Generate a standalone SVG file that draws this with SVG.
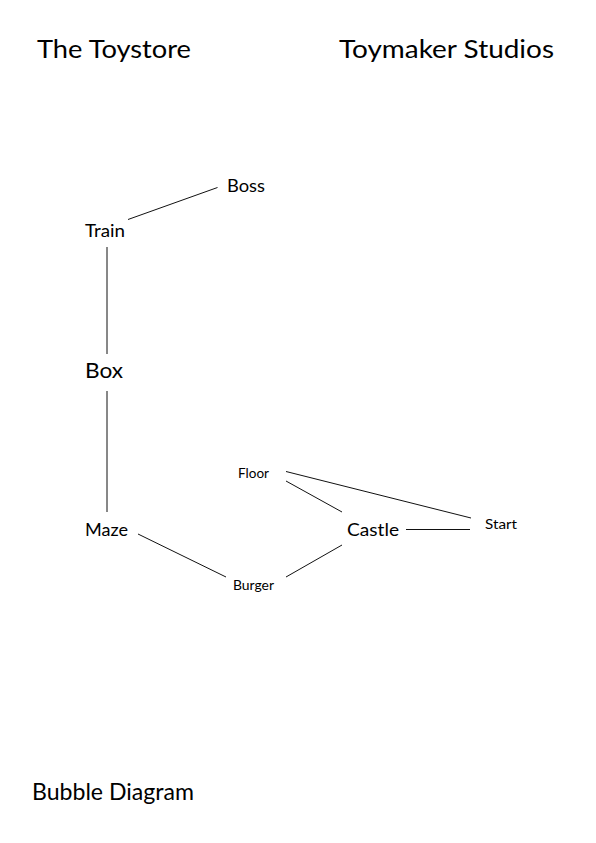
<svg xmlns="http://www.w3.org/2000/svg" width="596" height="843" viewBox="0 0 596 843">
<style>
text{font-family:Lato,"Noto Sans","Liberation Sans",sans-serif;fill:#000}
.t{font-size:25px}
.m{font-size:17px}
.s{font-size:12.5px}
.b{font-size:21px}
.c line{stroke:#111;stroke-width:1}
</style>
<rect width="596" height="843" fill="#fff"/>
<text class="t" x="37" y="58" textLength="154" lengthAdjust="spacingAndGlyphs">The Toystore</text>
<text class="t" x="339" y="58" textLength="215" lengthAdjust="spacingAndGlyphs">Toymaker Studios</text>
<text class="t" x="32" y="800" style="font-size:23px" textLength="162" lengthAdjust="spacingAndGlyphs">Bubble Diagram</text>
<g class="c" id="connectors">
<line x1="128" y1="219.5" x2="217.5" y2="187.5"/>
<line x1="107" y1="247" x2="107" y2="354"/>
<line x1="107" y1="391" x2="107" y2="512"/>
<line x1="286" y1="471.5" x2="471" y2="518"/>
<line x1="286" y1="481" x2="342" y2="512"/>
<line x1="406" y1="529.5" x2="470" y2="529.5"/>
<line x1="342" y1="545" x2="286" y2="577"/>
<line x1="138" y1="534" x2="226" y2="577"/>
</g>
<g id="boss"><text class="m" x="227" y="192" textLength="38" lengthAdjust="spacingAndGlyphs">Boss</text></g>
<g id="train"><text class="m" x="85" y="237" textLength="40" lengthAdjust="spacingAndGlyphs">Train</text></g>
<g id="box"><text class="b" x="85" y="378" textLength="38" lengthAdjust="spacingAndGlyphs">Box</text></g>
<g id="maze"><text class="m" x="85" y="536" textLength="43" lengthAdjust="spacingAndGlyphs">Maze</text></g>
<g id="castle"><text class="m" x="347" y="536" textLength="52" lengthAdjust="spacingAndGlyphs">Castle</text></g>
<g id="start"><text class="s" x="485" y="529" textLength="32" lengthAdjust="spacingAndGlyphs">Start</text></g>
<g id="floor"><text class="s" x="238" y="478" textLength="31" lengthAdjust="spacingAndGlyphs">Floor</text></g>
<g id="burger"><text class="s" x="233" y="590" textLength="41" lengthAdjust="spacingAndGlyphs">Burger</text></g>
</svg>
